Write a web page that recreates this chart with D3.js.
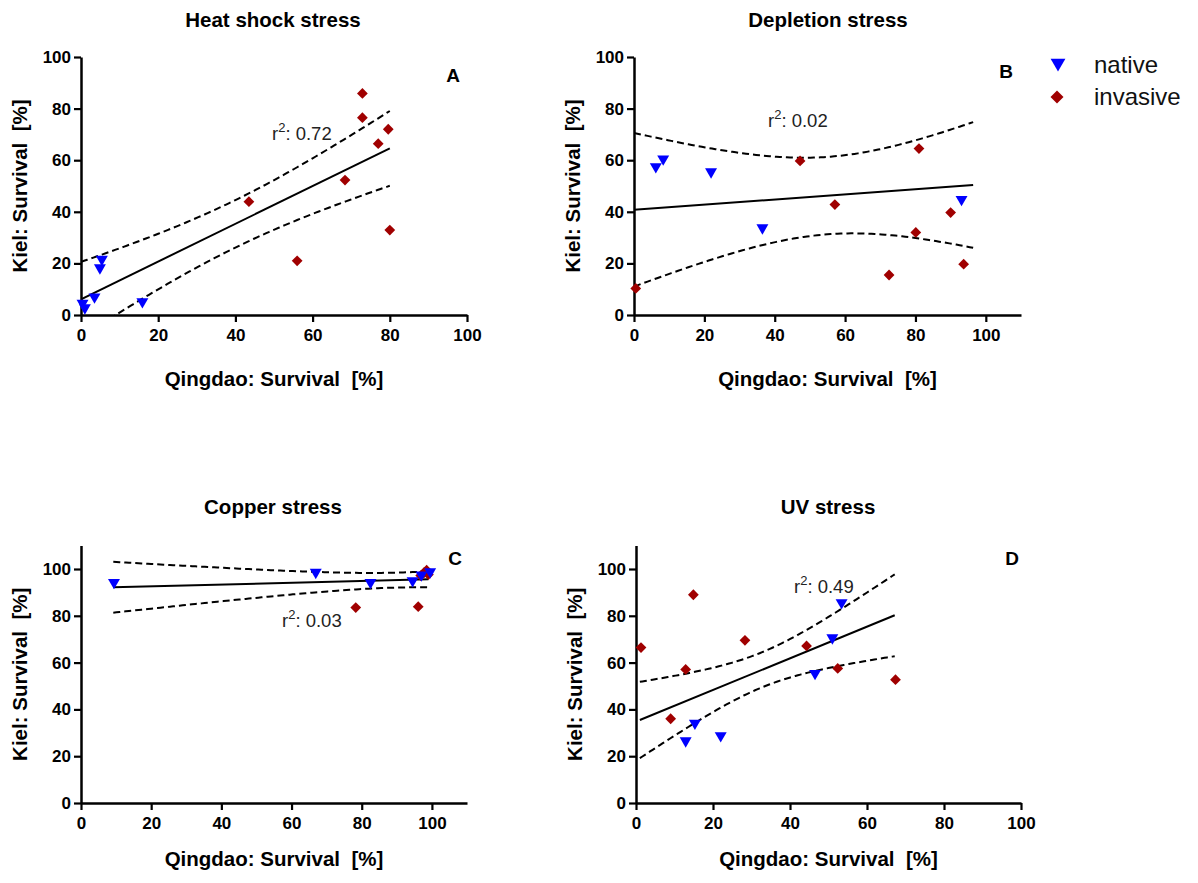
<!DOCTYPE html>
<html><head><meta charset="utf-8">
<script src="https://cdn.jsdelivr.net/npm/d3@7"></script>
<style>
html,body{margin:0;padding:0;background:#fff;}
text{font-family:"Liberation Sans",Arial,sans-serif;}
</style></head>
<body><svg id="chart" width="1198" height="883"></svg>
<script>
// ---------------- data ----------------
const panelTitles = ["Heat shock stress", "Depletion stress", "Copper stress", "UV stress"];
const panelLetters = ["A", "B", "C", "D"];
const r2Labels = ["0.72", "0.02", "0.03", "0.49"];
const xAxisLabel = "Qingdao: Survival  [%]";
const yAxisLabel = "Kiel: Survival  [%]";
const legendLabels = ["native", "invasive"];
const xTicks = [0, 20, 40, 60, 80, 100];
const yTicks = [0, 20, 40, 60, 80, 100];

// [Qingdao survival, Kiel survival]
const heatNative = [[0.4,4.6],[1,2.8],[3.5,7],[5.4,21.6],[4.9,18.3],[15.9,5.2]];
const heatInvasive = [[43.5,43.9],[56,21],[68.4,52.3],[72.9,85.9],[72.9,76.5],[77,66.4],[79.6,72],[80,32.9]];
const depletionNative = [[6.2,57.5],[8.3,60.5],[21.9,55.5],[36.5,33.8],[93.1,44.8]];
const depletionInvasive = [[0.5,10.3],[47.2,59.7],[57.1,42.8],[72.5,15.5],[80.1,32],[81,64.5],[90,39.7],[93.7,19.7]];
const copperNative = [[9.4,94.3],[66.9,98.6],[82.5,94.3],[94.5,95],[97,97.5],[99.5,98.8]];
const copperInvasive = [[78.3,83.5],[96.1,83.9],[96.8,97.2],[97.8,98.5],[98.5,99.5],[99,97.6]];
const uvNative = [[12.9,26.6],[15.3,34.1],[22,28.8],[46.5,55.4],[51,70.6],[53.4,85.6]];
const uvInvasive = [[1.3,66.4],[14.9,89],[12.9,57.1],[9,36],[28.3,69.5],[44.3,67.1],[52.4,57.5],[67.4,52.7]];

// linear fits as drawn in the figure
const fitIntercepts = [6.1, 40.8, 91.85, 34.8];
const fitSlopes = [0.731, 0.0996, 0.0379, 0.676];
const fitXMin = [0, 0, 9.2, 1.0];
const fitXMax = [80, 96.4, 99, 67.2];
// 95% confidence band: half-width = sqrt(h0^2 + k^2 (x - m)^2)
const bandCenters = [40, 55.2, 90, 32.65];
const bandMinHalfWidths = [9.2, 15, 3.2, 7.5];
const bandGrowth = [0.28, 0.466, 0.1286, 0.4575];

const nativeSets = [heatNative, depletionNative, copperNative, uvNative];
const invasiveSets = [heatInvasive, depletionInvasive, copperInvasive, uvInvasive];
const xMaxes = [100, 110, 110, 100];
const yMaxes = [100, 100, 110, 110];

// ---------------- layout ----------------
const layouts = [
  {x0:81,  x1:467,  y0:315, y1:57,    title:[273,27],  letter:[453,82],  r2:[272,140], ylab:20,  xlabOff:71},
  {x0:634, x1:1021, y0:315, y1:57,    title:[828,27],  letter:[1006,78], r2:[768,127], ylab:573, xlabOff:71},
  {x0:81,  x1:467,  y0:803, y1:545.6, title:[273,514], letter:[455,565], r2:[282,627], ylab:20,  xlabOff:63},
  {x0:636, x1:1021, y0:803, y1:545.6, title:[828,514], letter:[1012,565], r2:[794,593], ylab:575, xlabOff:63}
];
const blue = "#0000ff", red = "#a00000";

const svg = d3.select("#chart");
const triSym = d3.symbol().type(d3.symbolTriangle).size(62);
const diaSym = d3.symbol().type(d3.symbolSquare).size(58);

layouts.forEach((L, i) => {
  const g = svg.append("g");
  const x = d3.scaleLinear().domain([0, xMaxes[i]]).range([L.x0, L.x1]);
  const y = d3.scaleLinear().domain([0, yMaxes[i]]).range([L.y0, L.y1]);

  // axes
  const xa = g.append("g").attr("transform", `translate(0,${L.y0})`)
    .call(d3.axisBottom(x).tickValues(xTicks).tickSize(7).tickPadding(7).tickSizeOuter(0));
  const ya = g.append("g").attr("transform", `translate(${L.x0},0)`)
    .call(d3.axisLeft(y).tickValues(yTicks).tickSize(7).tickPadding(3).tickSizeOuter(0));
  [xa, ya].forEach(a => {
    a.select(".domain").attr("stroke", "#000").attr("stroke-width", 2.5);
    a.selectAll(".tick line").attr("stroke", "#000").attr("stroke-width", 2.2);
    a.selectAll(".tick text").attr("fill", "#000").attr("font-size", 17).attr("font-weight", "bold")
      .style("font-family", "'Liberation Sans', Arial, sans-serif");
  });

  // regression & confidence band
  const a0 = fitIntercepts[i], b0 = fitSlopes[i];
  const xmin = fitXMin[i], xmax = fitXMax[i];
  const xs = d3.range(0, 101).map(k => xmin + (xmax - xmin) * k / 100);
  const hw = xv => Math.sqrt(bandMinHalfWidths[i]**2 + (bandGrowth[i]*(xv - bandCenters[i]))**2);
  const line = d3.line().x(d=>x(d[0])).y(d=>y(d[1]));
  const clipId = "clip" + i;
  g.append("clipPath").attr("id", clipId).append("rect")
    .attr("x", L.x0).attr("y", L.y1 - 20).attr("width", L.x1 - L.x0).attr("height", L.y0 - L.y1 + 20);
  const lg = g.append("g").attr("clip-path", `url(#${clipId})`);
  [1, -1].forEach(sgn => {
    lg.append("path").datum(xs.map(v => [v, a0 + b0*v + sgn*hw(v)]))
      .attr("d", line).attr("fill", "none").attr("stroke", "#000").attr("stroke-width", 2).attr("stroke-dasharray", "7,4");
  });
  lg.append("path").datum([[xmin, a0 + b0*xmin], [xmax, a0 + b0*xmax]])
    .attr("d", line).attr("fill", "none").attr("stroke", "#000").attr("stroke-width", 2);

  // points
  g.selectAll(".inv").data(invasiveSets[i]).join("path")
    .attr("transform", d => `translate(${x(d[0])},${y(d[1])}) rotate(45)`)
    .attr("d", diaSym).attr("fill", red);
  g.selectAll(".nat").data(nativeSets[i]).join("path")
    .attr("transform", d => `translate(${x(d[0])},${y(d[1])}) rotate(180)`)
    .attr("d", triSym).attr("fill", blue);

  // labels
  g.append("text").attr("x", L.title[0]).attr("y", L.title[1]).attr("text-anchor", "middle")
    .attr("font-size", 20.5).attr("font-weight", "bold").text(panelTitles[i]);
  g.append("text").attr("x", L.letter[0]).attr("y", L.letter[1]).attr("text-anchor", "middle")
    .attr("font-size", 19).attr("font-weight", "bold").text(panelLetters[i]);
  const r2 = g.append("text").attr("x", L.r2[0]).attr("y", L.r2[1]).attr("font-size", 18.5).attr("fill", "#222");
  r2.append("tspan").text("r");
  r2.append("tspan").attr("dy", -8).attr("font-size", 13).text("2");
  r2.append("tspan").attr("dy", 8).text(": " + r2Labels[i]);
  g.append("text").attr("x", (L.x0 + L.x1)/2).attr("y", L.y0 + L.xlabOff).attr("text-anchor", "middle")
    .attr("font-size", 20.5).attr("font-weight", "bold").style("white-space", "pre").attr("xml:space", "preserve").text(xAxisLabel);
  g.append("text").attr("transform", `translate(${L.ylab},${(L.y0 + L.y1)/2}) rotate(-90)`)
    .attr("text-anchor", "middle").attr("dy", "0.35em")
    .attr("font-size", 20.5).attr("font-weight", "bold").style("white-space", "pre").attr("xml:space", "preserve").text(yAxisLabel);
});

// legend
const leg = svg.append("g");
leg.append("path").attr("transform", "translate(1058,63) rotate(180)").attr("d", d3.symbol().type(d3.symbolTriangle).size(95)).attr("fill", blue);
leg.append("path").attr("transform", "translate(1057,97) rotate(45)").attr("d", d3.symbol().type(d3.symbolSquare).size(85)).attr("fill", red);
leg.append("text").attr("x", 1094).attr("y", 73).attr("font-size", 24).attr("fill", "#111").text(legendLabels[0]);
leg.append("text").attr("x", 1094).attr("y", 105).attr("font-size", 24).attr("fill", "#111").text(legendLabels[1]);
</script>
</body></html>
